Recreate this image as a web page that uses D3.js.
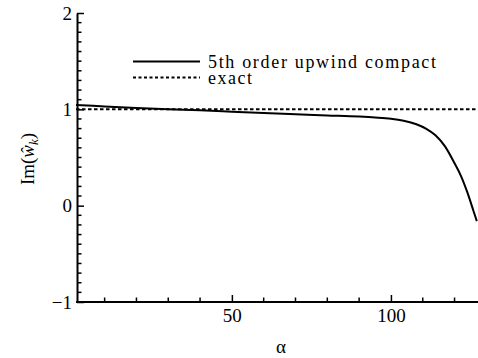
<!DOCTYPE html>
<html>
<head>
<meta charset="utf-8">
<script src="https://cdn.jsdelivr.net/npm/d3@7"></script>
<style>
  body { margin: 0; background: #fff; }
  svg text { font-family: "Liberation Serif", "Times New Roman", serif !important; fill: #000; }
</style>
</head>
<body>
<svg id="chart" width="478" height="358"></svg>
<script>
// data
const alpha = [1, 10, 20, 30, 40, 50, 60, 70, 80, 90, 95, 100, 104, 108, 111, 114, 117, 120, 122, 124, 126, 127];
const imW   = [1.045, 1.03, 1.013, 1.0, 0.99, 0.976, 0.962, 0.949, 0.937, 0.925, 0.916, 0.903, 0.882, 0.845, 0.8, 0.73, 0.615, 0.44, 0.31, 0.14, -0.06, -0.16];
const exactAlpha = [1, 128];
const exactW = [1, 1];
const xTicksMajor = [50, 100];
const xTicksMinor = [10, 20, 30, 40, 60, 70, 80, 90, 110, 120];
const yTicksMajor = [-1, 0, 1, 2];
const legendLabels = ["5th order upwind compact", "exact"];

const svg = d3.select("#chart");
const x = d3.scaleLinear().domain([1, 128]).range([76, 480]);
const y = d3.scaleLinear().domain([-1, 2]).range([302, 13]);

const yMinor = d3.range(-10, 21).map(d => d / 10).filter(d => !yTicksMajor.includes(d));

// axes, ticks pointing inward
const xAxis = svg.append("g").attr("transform", `translate(0,${y(-1)})`);
xAxis.call(d3.axisBottom(x).tickValues(xTicksMajor).tickSize(-7).tickSizeOuter(0).tickPadding(6))
  .call(g => g.select(".domain").attr("stroke-width", 2).attr("d", `M${x.range()[0]},0H478`));
xAxis.selectAll(".tick line").attr("stroke-width", 1.5);
xAxis.selectAll(".tick text").attr("font-size", 19).attr("dy", "0.75em");
xAxis.selectAll(".minor").data(xTicksMinor).enter().append("line")
  .attr("x1", d => x(d)).attr("x2", d => x(d)).attr("y1", 0).attr("y2", -4.5)
  .attr("stroke", "#000").attr("stroke-width", 1.5);

const yAxis = svg.append("g").attr("transform", `translate(${x(1) + 1},0)`);
yAxis.call(d3.axisLeft(y).tickValues(yTicksMajor).tickSize(-7).tickSizeOuter(0).tickPadding(5)
    .tickFormat(d => d < 0 ? "\u2212" + Math.abs(d) : d))
  .call(g => g.select(".domain").attr("stroke-width", 2));
yAxis.selectAll(".tick line").attr("stroke-width", 1.5);
yAxis.selectAll(".tick text").attr("font-size", 19);
yAxis.selectAll(".minor").data(yMinor).enter().append("line")
  .attr("x1", 0).attr("x2", 4.5).attr("y1", d => y(d)).attr("y2", d => y(d))
  .attr("stroke", "#000").attr("stroke-width", 1.5);

// curves
const line = d3.line().x(d => x(d[0])).y(d => y(d[1])).curve(d3.curveMonotoneX);
svg.append("path").datum(d3.zip(exactAlpha, exactW))
  .attr("d", line).attr("fill", "none").attr("stroke", "#000")
  .attr("stroke-width", 2).attr("stroke-dasharray", "3.5,2.5");
svg.append("path").datum(d3.zip(alpha, imW))
  .attr("d", line).attr("fill", "none").attr("stroke", "#000").attr("stroke-width", 2);

// legend
const leg = svg.append("g");
leg.append("line").attr("x1", 133).attr("x2", 200).attr("y1", 61.5).attr("y2", 61.5)
  .attr("stroke", "#000").attr("stroke-width", 2);
leg.append("line").attr("x1", 133).attr("x2", 200).attr("y1", 77.5).attr("y2", 77.5)
  .attr("stroke", "#000").attr("stroke-width", 2).attr("stroke-dasharray", "3,2.5");
leg.append("text").attr("x", 208).attr("y", 67.5).attr("font-size", 18)
  .attr("textLength", 228).attr("lengthAdjust", "spacing").text(legendLabels[0]);
leg.append("text").attr("x", 208).attr("y", 83.5).attr("font-size", 18)
  .attr("textLength", 44).attr("lengthAdjust", "spacing").text(legendLabels[1]);

// axis titles
svg.append("text").attr("x", 281).attr("y", 353).attr("text-anchor", "middle")
  .attr("font-size", 19).text("\u03b1");

const yt = svg.append("text").attr("transform", "translate(34,159) rotate(-90)")
  .attr("text-anchor", "middle").attr("font-size", 19);
yt.append("tspan").text("Im(");
yt.append("tspan").attr("font-style", "italic").text("\u0175");
yt.append("tspan").attr("font-style", "italic").attr("font-size", 13).attr("dy", 4).text("k");
yt.append("tspan").attr("dy", -4).text(")");
</script>
</body>
</html>
